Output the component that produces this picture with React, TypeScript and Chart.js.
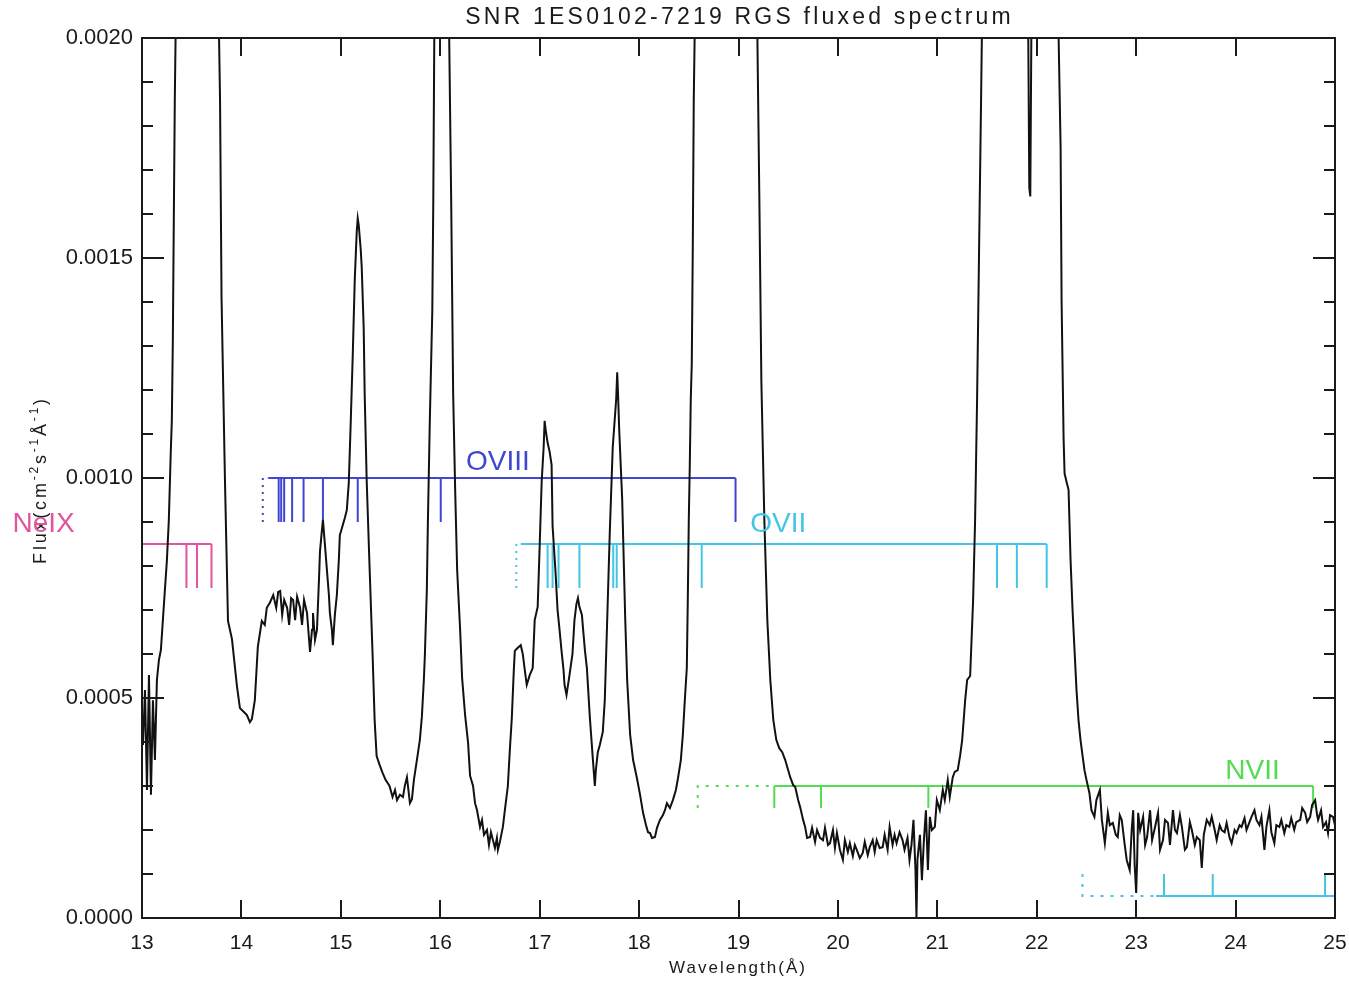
import React, { useEffect, useRef } from "react";
import { Chart, registerables } from "chart.js";

Chart.register(...registerables);

// ---------- DATA ----------
const X_MIN = 13;
const X_MAX = 25;
const Y_MIN = 0;
const Y_MAX = 0.002;
const X_TICKS = [13, 14, 15, 16, 17, 18, 19, 20, 21, 22, 23, 24, 25];
const Y_MAJOR_TICKS = [0, 0.0005, 0.001, 0.0015, 0.002];

const TITLE = "SNR 1ES0102-7219 RGS fluxed spectrum";
const X_TITLE = "Wavelength(Å)";

// Spectrum: wavelength (Å) and flux (cm^-2 s^-1 Å^-1)
const WAVELENGTH = [
  13.01, 13.03, 13.05, 13.07, 13.09, 13.11, 13.13, 13.15, 13.17, 13.19,
  13.21, 13.23, 13.25, 13.27, 13.29, 13.3, 13.31, 13.32, 13.33, 13.34,
  13.4, 13.45, 13.55, 13.65, 13.75, 13.775, 13.785, 13.8, 13.835, 13.865,
  13.905, 13.955, 13.985, 14.025, 14.055, 14.085, 14.105, 14.135, 14.165, 14.205,
  14.235, 14.255, 14.285, 14.32, 14.35, 14.37, 14.39, 14.41, 14.43, 14.46,
  14.48, 14.5, 14.52, 14.54, 14.56, 14.59, 14.61, 14.63, 14.66, 14.69,
  14.71, 14.72, 14.74, 14.76, 14.78, 14.79, 14.81, 14.82, 14.84, 14.86,
  14.88, 14.89, 14.91, 14.92, 14.94, 14.96, 14.98, 14.99, 15.02, 15.04,
  15.06, 15.08, 15.1, 15.12, 15.14, 15.16, 15.17, 15.18, 15.2, 15.21,
  15.23, 15.24, 15.26, 15.29, 15.32, 15.34, 15.36, 15.39, 15.42, 15.45,
  15.49, 15.52, 15.545, 15.565, 15.595, 15.625, 15.645, 15.665, 15.695, 15.715,
  15.735, 15.765, 15.795, 15.815, 15.835, 15.845, 15.865, 15.875, 15.895, 15.92,
  15.93, 15.94, 16.0, 16.02, 16.06, 16.09, 16.11, 16.13, 16.15, 16.17,
  16.2, 16.22, 16.25, 16.28, 16.3, 16.33, 16.35, 16.37, 16.4, 16.42,
  16.44, 16.47, 16.49, 16.51, 16.53, 16.55, 16.57, 16.58, 16.6, 16.63,
  16.65, 16.68, 16.7, 16.72, 16.74, 16.75, 16.78, 16.81, 16.83, 16.85,
  16.87, 16.9, 16.93, 16.95, 16.98, 17.0, 17.02, 17.04, 17.05, 17.06,
  17.08, 17.1, 17.12, 17.13, 17.16, 17.18, 17.2, 17.22, 17.24, 17.25,
  17.27, 17.3, 17.33, 17.35, 17.37, 17.385, 17.4, 17.425, 17.435, 17.455,
  17.475, 17.505, 17.535, 17.555, 17.565, 17.585, 17.605, 17.635, 17.655, 17.675,
  17.705, 17.735, 17.77, 17.78, 17.79, 17.8, 17.83, 17.86, 17.88, 17.91,
  17.94, 17.98, 18.01, 18.04, 18.07, 18.09, 18.11, 18.13, 18.16, 18.18,
  18.21, 18.24, 18.26, 18.28, 18.31, 18.34, 18.37, 18.39, 18.42, 18.44,
  18.46, 18.48, 18.49, 18.5, 18.51, 18.52, 18.53, 18.54, 18.55, 18.56,
  18.65, 18.8, 18.97, 19.1, 19.15, 19.19, 19.21, 19.23, 19.26, 19.29,
  19.32, 19.35, 19.38, 19.41, 19.44, 19.47, 19.5, 19.52, 19.55, 19.57,
  19.6, 19.62, 19.65, 19.67, 19.69, 19.72, 19.74, 19.77, 19.79, 19.82,
  19.85, 19.87, 19.9, 19.92, 19.95, 19.97, 19.99, 20.02, 20.05, 20.07,
  20.1, 20.12, 20.15, 20.17, 20.19, 20.22, 20.25, 20.27, 20.3, 20.32,
  20.35, 20.37, 20.39, 20.42, 20.45, 20.47, 20.5, 20.52, 20.55, 20.57,
  20.59, 20.62, 20.65, 20.67, 20.7, 20.72, 20.74, 20.76, 20.78, 20.79,
  20.8, 20.825, 20.845, 20.865, 20.885, 20.905, 20.925, 20.945, 20.975, 20.995,
  21.025, 21.055, 21.075, 21.105, 21.125, 21.155, 21.175, 21.205, 21.23, 21.25,
  21.28, 21.3, 21.33, 21.36, 21.38, 21.4, 21.42, 21.44, 21.45, 21.55,
  21.6, 21.7, 21.8, 21.87, 21.9, 21.925, 21.935, 21.96, 22.05, 22.1,
  22.18, 22.22, 22.24, 22.25, 22.27, 22.28, 22.3, 22.32, 22.34, 22.36,
  22.38, 22.4, 22.42, 22.44, 22.46, 22.48, 22.5, 22.53, 22.55, 22.58,
  22.6, 22.635, 22.655, 22.685, 22.715, 22.735, 22.765, 22.795, 22.815, 22.835,
  22.855, 22.885, 22.905, 22.935, 22.955, 22.97, 22.985, 23.0, 23.01, 23.02,
  23.04, 23.07, 23.09, 23.11, 23.14, 23.16, 23.19, 23.22, 23.24, 23.27,
  23.29, 23.32, 23.34, 23.37, 23.39, 23.41, 23.44, 23.46, 23.49, 23.51,
  23.54, 23.56, 23.59, 23.61, 23.64, 23.66, 23.68, 23.71, 23.74, 23.76,
  23.79, 23.81, 23.84, 23.86, 23.89, 23.91, 23.94, 23.96, 23.99, 24.01,
  24.04, 24.06, 24.09, 24.11, 24.14, 24.16, 24.19, 24.21, 24.24, 24.26,
  24.29, 24.31, 24.34, 24.36, 24.39, 24.41, 24.44, 24.46, 24.49, 24.51,
  24.54, 24.56, 24.59, 24.61, 24.65, 24.67, 24.7, 24.72, 24.75, 24.77,
  24.8, 24.82, 24.83, 24.86, 24.88, 24.91, 24.93, 24.95, 24.98, 25.0,
];

const FLUX = [
  3.93e-4, 5.18e-4, 2.91e-4, 5.52e-4, 2.8e-4, 4.95e-4, 3.59e-4, 5.41e-4, 5.86e-4, 6.09e-4,
  6.77e-4, 7.45e-4, 8.11e-4, 9.05e-4, 10.64e-4, 11.3e-4, 13.1e-4, 15.9e-4, 18.6e-4, 20.4e-4,
  35e-4, 60e-4, 45e-4, 40e-4, 25e-4, 20.0e-4, 18.6e-4, 14.1e-4, 9.89e-4, 6.75e-4,
  6.34e-4, 5.27e-4, 4.77e-4, 4.68e-4, 4.61e-4, 4.45e-4, 4.52e-4, 4.95e-4, 6.16e-4, 6.75e-4,
  6.66e-4, 7.05e-4, 7.16e-4, 7.34e-4, 7.05e-4, 7.41e-4, 7.43e-4, 6.89e-4, 7.23e-4, 7.05e-4,
  6.66e-4, 7.27e-4, 7.23e-4, 6.77e-4, 7.3e-4, 7.05e-4, 6.66e-4, 7.23e-4, 6.93e-4, 6.05e-4,
  6.55e-4, 6.93e-4, 6.32e-4, 6.55e-4, 7.68e-4, 8.32e-4, 8.82e-4, 9.05e-4, 8.48e-4, 7.91e-4,
  7.34e-4, 6.93e-4, 6.55e-4, 6.2e-4, 6.89e-4, 7.34e-4, 8.14e-4, 8.7e-4, 8.93e-4, 9.09e-4,
  9.27e-4, 9.89e-4, 11.3e-4, 12.8e-4, 14.5e-4, 15.6e-4, 15.9e-4, 15.75e-4, 15.2e-4, 14.8e-4,
  13.4e-4, 11.9e-4, 9.95e-4, 7.91e-4, 5.95e-4, 4.5e-4, 3.68e-4, 3.48e-4, 3.3e-4, 3.14e-4,
  3.0e-4, 2.75e-4, 2.91e-4, 2.68e-4, 2.8e-4, 2.75e-4, 3.02e-4, 3.2e-4, 2.61e-4, 2.7e-4,
  3.14e-4, 3.59e-4, 4.05e-4, 4.57e-4, 5.41e-4, 5.95e-4, 7.45e-4, 8.91e-4, 11.3e-4, 13.8e-4,
  16.3e-4, 20.0e-4, 40e-4, 45e-4, 35e-4, 20.0e-4, 16.3e-4, 11.9e-4, 9.73e-4, 7.91e-4,
  6.55e-4, 5.45e-4, 4.61e-4, 3.98e-4, 3.23e-4, 3.0e-4, 2.61e-4, 2.45e-4, 2.07e-4, 2.23e-4,
  1.89e-4, 2.0e-4, 1.66e-4, 1.95e-4, 1.77e-4, 1.59e-4, 1.82e-4, 1.55e-4, 1.73e-4, 2.07e-4,
  2.45e-4, 3.0e-4, 3.82e-4, 4.55e-4, 5.64e-4, 6.07e-4, 6.14e-4, 6.2e-4, 6.0e-4, 5.64e-4,
  5.3e-4, 5.52e-4, 5.68e-4, 6.77e-4, 7.07e-4, 8.45e-4, 9.91e-4, 10.7e-4, 11.3e-4, 11.1e-4,
  10.8e-4, 10.6e-4, 10.3e-4, 8.91e-4, 7.84e-4, 7.0e-4, 6.55e-4, 6.07e-4, 5.64e-4, 5.3e-4,
  5.07e-4, 5.52e-4, 6.0e-4, 6.77e-4, 7.14e-4, 7.27e-4, 7.07e-4, 6.89e-4, 6.61e-4, 6.09e-4,
  5.68e-4, 4.55e-4, 3.61e-4, 3.0e-4, 3.36e-4, 3.77e-4, 3.93e-4, 4.23e-4, 4.95e-4, 6.45e-4,
  8.75e-4, 10.7e-4, 11.8e-4, 12.4e-4, 11.8e-4, 11.1e-4, 9.52e-4, 6.84e-4, 5.41e-4, 4.16e-4,
  3.59e-4, 3.16e-4, 2.8e-4, 2.39e-4, 2.11e-4, 1.95e-4, 1.93e-4, 1.82e-4, 1.84e-4, 2.05e-4,
  2.23e-4, 2.34e-4, 2.45e-4, 2.61e-4, 2.5e-4, 2.68e-4, 2.91e-4, 3.16e-4, 3.59e-4, 4.16e-4,
  4.95e-4, 5.68e-4, 7.23e-4, 9.05e-4, 10.3e-4, 11.8e-4, 12.6e-4, 15.2e-4, 18.6e-4, 20.2e-4,
  40e-4, 50e-4, 70e-4, 50e-4, 35e-4, 20.0e-4, 16.3e-4, 12.2e-4, 9.05e-4, 6.77e-4,
  5.41e-4, 4.5e-4, 4.05e-4, 3.86e-4, 3.77e-4, 3.59e-4, 3.36e-4, 3.2e-4, 3.02e-4, 2.98e-4,
  2.68e-4, 2.52e-4, 2.23e-4, 2.07e-4, 1.82e-4, 1.84e-4, 2.05e-4, 1.73e-4, 2.0e-4, 1.82e-4,
  1.77e-4, 2.05e-4, 1.66e-4, 1.7e-4, 2.0e-4, 1.59e-4, 1.93e-4, 1.55e-4, 1.32e-4, 1.77e-4,
  1.5e-4, 1.7e-4, 1.41e-4, 1.66e-4, 1.55e-4, 1.36e-4, 1.48e-4, 1.73e-4, 1.43e-4, 1.61e-4,
  1.77e-4, 1.5e-4, 1.77e-4, 1.59e-4, 1.61e-4, 1.89e-4, 1.55e-4, 2.07e-4, 1.66e-4, 1.89e-4,
  1.7e-4, 1.95e-4, 1.77e-4, 1.55e-4, 1.82e-4, 1.32e-4, 1.66e-4, 2.23e-4, 1.09e-4, 0.0,
  1.32e-4, 1.89e-4, 0.86e-4, 1.77e-4, 2.45e-4, 1.09e-4, 2.3e-4, 2.0e-4, 2.07e-4, 2.68e-4,
  2.45e-4, 2.91e-4, 2.68e-4, 3.14e-4, 2.75e-4, 3.2e-4, 3.32e-4, 3.36e-4, 3.7e-4, 4.05e-4,
  4.95e-4, 5.41e-4, 5.5e-4, 7.23e-4, 9.05e-4, 11.8e-4, 15.2e-4, 18.6e-4, 20.4e-4, 45e-4,
  60e-4, 40e-4, 45e-4, 30e-4, 25e-4, 16.6e-4, 16.4e-4, 25e-4, 50e-4, 55e-4,
  30e-4, 20.0e-4, 17.5e-4, 14.0e-4, 10.9e-4, 10.1e-4, 9.91e-4, 9.73e-4, 8.14e-4, 7.0e-4,
  6.09e-4, 5.18e-4, 4.5e-4, 4.05e-4, 3.7e-4, 3.36e-4, 3.14e-4, 2.84e-4, 2.45e-4, 2.3e-4,
  2.68e-4, 2.91e-4, 2.23e-4, 1.7e-4, 2.39e-4, 2.11e-4, 2.16e-4, 1.89e-4, 1.84e-4, 2.34e-4,
  2.23e-4, 1.66e-4, 1.32e-4, 1.09e-4, 2.0e-4, 2.45e-4, 1.2e-4, 0.57e-4, 1.32e-4, 2.39e-4,
  2.0e-4, 2.3e-4, 1.66e-4, 1.84e-4, 2.45e-4, 1.77e-4, 2.07e-4, 2.39e-4, 1.55e-4, 1.77e-4,
  2.23e-4, 2.16e-4, 1.66e-4, 2.45e-4, 2.0e-4, 1.93e-4, 2.34e-4, 2.07e-4, 1.55e-4, 1.61e-4,
  2.18e-4, 2.0e-4, 1.66e-4, 1.84e-4, 1.77e-4, 1.14e-4, 1.89e-4, 2.23e-4, 2.11e-4, 2.3e-4,
  2.0e-4, 1.77e-4, 2.11e-4, 2.0e-4, 1.95e-4, 2.16e-4, 1.82e-4, 1.7e-4, 2.0e-4, 1.93e-4,
  2.11e-4, 2.07e-4, 2.27e-4, 2.0e-4, 2.18e-4, 2.3e-4, 2.45e-4, 2.23e-4, 2.11e-4, 2.3e-4,
  1.55e-4, 2.07e-4, 2.45e-4, 1.95e-4, 1.7e-4, 2.11e-4, 2.07e-4, 2.23e-4, 1.93e-4, 2.11e-4,
  2.07e-4, 2.27e-4, 2.0e-4, 2.18e-4, 2.23e-4, 2.5e-4, 2.39e-4, 2.18e-4, 2.3e-4, 2.57e-4,
  2.68e-4, 2.34e-4, 2.23e-4, 2.45e-4, 2.07e-4, 2.18e-4, 1.93e-4, 2.34e-4, 2.3e-4, 2.11e-4,
];

// Line identifications (wavelengths, Å)
const NEIX_LINES = [13.447, 13.553, 13.699];
const OVIII_LINES = [14.375, 14.4, 14.43, 14.51, 14.625, 14.82, 15.17, 16.005, 18.97];
const OVII_LINES = [17.08, 17.13, 17.19, 17.4, 17.74, 17.775, 18.63, 21.6, 21.8, 22.1];
const NVII_LINES = [19.36, 19.83, 20.91, 24.78];
const NVI_LINES = [23.28, 23.77, 24.9];

// series bar geometry in data units: [level, tick end, bar start, bar end, limit]
const NEIX_BAR = [0.00085, 0.00075, 12.9, 13.699];
const OVIII_BAR = [0.001, 0.0009, 14.27, 18.97, 14.215];
const OVII_BAR = [0.00085, 0.00075, 16.81, 22.1, 16.765];
const NVII_BAR = [0.0003, 0.00025, 19.36, 24.78, 18.59];
const NVI_BAR = [0.00005, 0.0001, 23.2, 25.3, 22.46];

const SERIES_LABELS = [
  { text: "NeIX", x: 12.01, y: 0.000895, color: "#e0559e" },
  { text: "OVIII", x: 16.58, y: 0.001035, color: "#3f46d2" },
  { text: "OVII", x: 19.4, y: 0.000895, color: "#42c6e4" },
  { text: "NVII", x: 24.17, y: 0.000333, color: "#52dc52" },
];

const COL_NEIX = "#e0559e";
const COL_OVIII = "#3f46d2";
const COL_OVII = "#42c6e4";
const COL_NVII = "#52dc52";

const FONT = "'Liberation Sans', Arial, Helvetica, sans-serif";

type Pt = { x: number; y: number | null };

function barPoints(bar: number[], lines: number[]): Pt[] {
  const [level, end, from, to] = bar;
  const pts: Pt[] = [
    { x: from, y: level },
    { x: to, y: level },
    { x: to, y: null },
  ];
  lines.forEach((l) => {
    pts.push({ x: l, y: level }, { x: l, y: end }, { x: l, y: null });
  });
  return pts;
}

function limitPoints(bar: number[], withHorizontal: boolean): Pt[] {
  const [level, end, from, , limit] = bar;
  const pts: Pt[] = [
    { x: limit, y: end },
    { x: limit, y: level },
  ];
  if (withHorizontal) pts.push({ x: from, y: level });
  return pts;
}

function lineDs(data: Pt[], color: string, dash: number[] = [], width = 2) {
  return {
    data,
    borderColor: color,
    borderWidth: width,
    borderDash: dash,
    pointRadius: 0,
    spanGaps: false,
    tension: 0,
    fill: false,
    clip: 0,
    order: 2,
  };
}

function drawSpaced(ctx: CanvasRenderingContext2D, text: string, x: number, y: number, spacing: number) {
  const c: any = ctx;
  c.letterSpacing = spacing + "px";
  const w = ctx.measureText(text).width - spacing;
  ctx.textAlign = "left";
  ctx.fillText(text, x - w / 2, y);
  c.letterSpacing = "0px";
}

const framePlugin = {
  id: "idlFrame",
  afterDatasetsDraw(chart: any) {
    const { ctx, chartArea, scales } = chart;
    const { left, right, top, bottom } = chartArea;
    const xs = scales.x;
    const ys = scales.y;
    ctx.save();
    ctx.strokeStyle = "#1a1a1a";
    ctx.lineWidth = 2;
    ctx.strokeRect(left, top, right - left, bottom - top);
    ctx.beginPath();
    for (let i = 0; i <= 20; i++) {
      const py = Math.round(ys.getPixelForValue(i * 0.0001));
      const len = i % 5 === 0 ? 22 : 11;
      ctx.moveTo(left, py);
      ctx.lineTo(left + len, py);
      ctx.moveTo(right, py);
      ctx.lineTo(right - len, py);
    }
    X_TICKS.forEach((w) => {
      const px = Math.round(xs.getPixelForValue(w));
      ctx.moveTo(px, bottom);
      ctx.lineTo(px, bottom - 18);
      ctx.moveTo(px, top);
      ctx.lineTo(px, top + 18);
    });
    ctx.stroke();

    // texts
    ctx.fillStyle = "#1a1a1a";
    ctx.textBaseline = "middle";
    ctx.font = `23px ${FONT}`;
    drawSpaced(ctx, TITLE, 738, 18, 3.2);
    ctx.font = `17px ${FONT}`;
    drawSpaced(ctx, X_TITLE, 737, 968, 2);

    // rotated y title with superscripts
    ctx.save();
    ctx.translate(41, 480);
    ctx.rotate(-Math.PI / 2);
    const segs = [
      { t: "Flux(cm", s: false },
      { t: "-2", s: true },
      { t: "s", s: false },
      { t: "-1", s: true },
      { t: "Å", s: false },
      { t: "-1", s: true },
      { t: ")", s: false },
    ];
    const c: any = ctx;
    c.letterSpacing = "2.8px";
    let total = 0;
    const widths = segs.map((sg) => {
      ctx.font = sg.s ? `12px ${FONT}` : `18px ${FONT}`;
      const w = ctx.measureText(sg.t).width;
      total += w;
      return w;
    });
    let cx = -total / 2;
    ctx.textAlign = "left";
    segs.forEach((sg, i) => {
      ctx.font = sg.s ? `12px ${FONT}` : `18px ${FONT}`;
      ctx.fillText(sg.t, cx, sg.s ? -6 : 0);
      cx += widths[i];
    });
    c.letterSpacing = "0px";
    ctx.restore();

    // series labels
    ctx.font = `28px ${FONT}`;
    ctx.textAlign = "center";
    SERIES_LABELS.forEach((lb) => {
      ctx.fillStyle = lb.color;
      ctx.fillText(lb.text, xs.getPixelForValue(lb.x), ys.getPixelForValue(lb.y));
    });
    ctx.restore();
  },
};

export default function App() {
  const ref = useRef<HTMLCanvasElement>(null);
  useEffect(() => {
    if (!ref.current) return;
    const spectrum = WAVELENGTH.map((w, i) => ({ x: w, y: FLUX[i] }));
    const chart = new Chart(ref.current, {
      type: "line",
      data: {
        datasets: [
          {
            data: spectrum,
            borderColor: "#111111",
            borderWidth: 2,
            pointRadius: 0,
            tension: 0,
            fill: false,
            clip: 0,
            order: 0,
          } as any,
          lineDs(barPoints(NEIX_BAR, NEIX_LINES), COL_NEIX),
          lineDs(barPoints(OVIII_BAR, OVIII_LINES), COL_OVIII),
          lineDs(limitPoints(OVIII_BAR, true), COL_OVIII, [2, 5]),
          lineDs(barPoints(OVII_BAR, OVII_LINES), COL_OVII),
          lineDs(limitPoints(OVII_BAR, true), COL_OVII, [2, 5]),
          lineDs(barPoints(NVII_BAR, NVII_LINES), COL_NVII),
          lineDs(limitPoints(NVII_BAR, true), COL_NVII, [3, 7]),
          lineDs(barPoints(NVI_BAR, NVI_LINES), COL_OVII),
          lineDs(limitPoints(NVI_BAR, true), COL_OVII, [3, 7]),
        ] as any,
      },
      options: {
        animation: false,
        responsive: false,
        maintainAspectRatio: false,
        devicePixelRatio: 1,
        layout: { padding: { left: 0, top: 38, right: 14, bottom: 0 } },
        plugins: {
          legend: { display: false },
          tooltip: { enabled: false },
          title: { display: false },
        },
        scales: {
          x: {
            type: "linear",
            min: X_MIN,
            max: X_MAX,
            grid: { display: false, drawTicks: false },
            border: { display: false },
            afterBuildTicks: (s: any) => {
              s.ticks = X_TICKS.map((v) => ({ value: v }));
            },
            afterFit: (s: any) => {
              s.height = 63;
              s.paddingLeft = 0;
              s.paddingRight = 0;
            },
            ticks: {
              padding: 13,
              color: "#1a1a1a",
              font: { family: FONT, size: 21 },
              maxRotation: 0,
              autoSkip: false,
            },
          },
          y: {
            type: "linear",
            min: Y_MIN,
            max: Y_MAX,
            grid: { display: false, drawTicks: false },
            border: { display: false },
            afterBuildTicks: (s: any) => {
              s.ticks = Y_MAJOR_TICKS.map((v) => ({ value: v }));
            },
            afterFit: (s: any) => {
              s.width = 142;
              s.paddingTop = 0;
              s.paddingBottom = 0;
            },
            ticks: {
              padding: 9,
              color: "#1a1a1a",
              font: { family: FONT, size: 22 },
              callback: (v: any) => Number(v).toFixed(4),
            },
          },
        },
      } as any,
      plugins: [framePlugin],
    });
    return () => chart.destroy();
  }, []);
  return (
    <div style={{ position: "fixed", left: 0, top: 0, width: 1349, height: 981, background: "#ffffff" }}>
      <canvas ref={ref} width={1349} height={981} style={{ display: "block", width: 1349, height: 981 }} />
    </div>
  );
}
